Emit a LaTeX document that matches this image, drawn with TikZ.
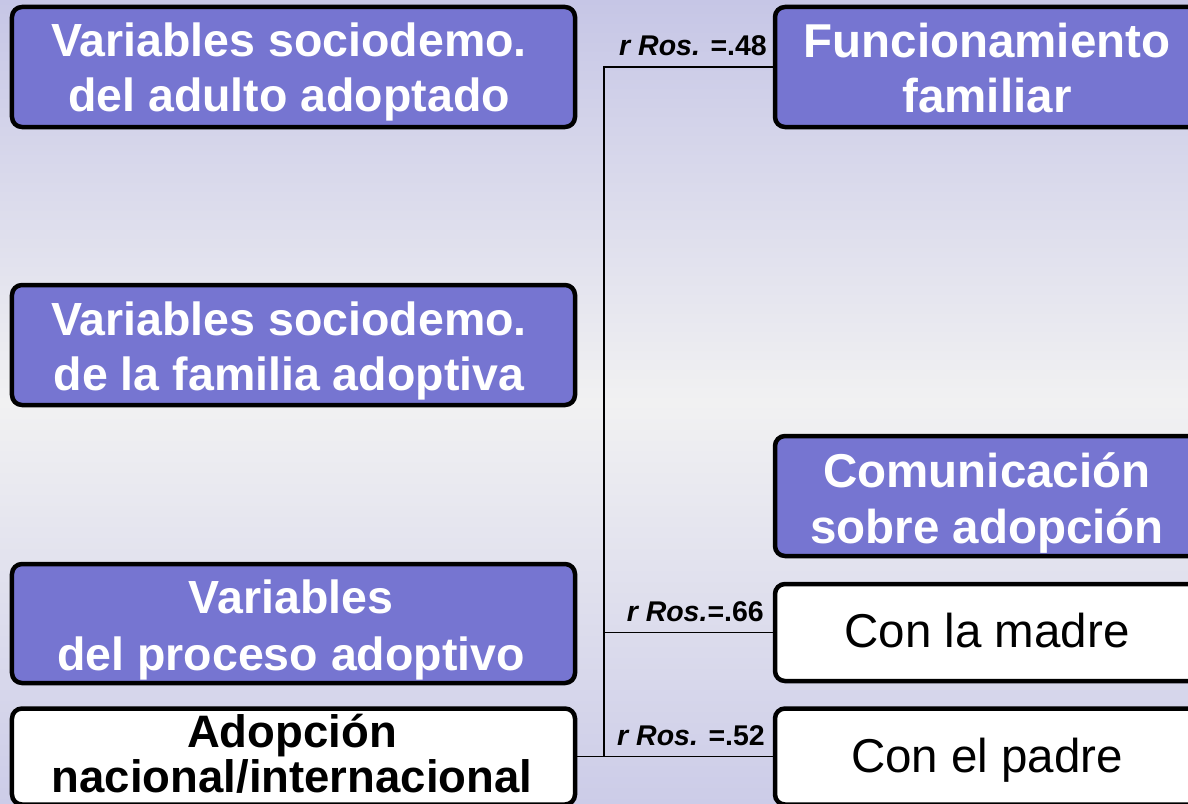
\documentclass[tikz,border=0pt]{standalone}
\usepackage{fontspec}
\setmainfont{Liberation Sans}
\definecolor{boxblue}{RGB}{118,117,209}
\definecolor{bgtop}{RGB}{198,198,230}
\definecolor{bgmid}{RGB}{241,241,242}
\definecolor{bgbot}{RGB}{204,204,232}
\tikzset{
  boxbase/.style={draw=black, line width=4.5bp, rounded corners=10bp, inner sep=0pt},
  leftbox/.style={boxbase, minimum width=563bp},
  rightbox/.style={boxbase, minimum width=424bp},
  bluefill/.style={fill=boxblue},
  whitefill/.style={fill=white},
  wtxt/.style={anchor=base, inner sep=0pt, text=white, font=\bfseries\fontsize{46.5bp}{55bp}\selectfont},
  btxt/.style={anchor=base, inner sep=0pt, text=black, font=\bfseries\fontsize{45.5bp}{50bp}\selectfont},
  rtxt/.style={anchor=base, inner sep=0pt, text=black, font=\fontsize{47.5bp}{55bp}\selectfont},
  lbl/.style={anchor=base east, inner sep=0pt, font=\bfseries\fontsize{28.5bp}{30bp}\selectfont},
  conn/.style={line width=1.8bp, draw=black}
}
\begin{document}
\begin{tikzpicture}[x=1bp, y=-1bp]
\useasboundingbox (0,0) rectangle (1188,804);
\clip (0,0) rectangle (1188,804);
\shade[top color=bgtop, bottom color=bgbot, middle color=bgmid] (0,0) rectangle (1188,804);

% boxes (shapes)
\node[leftbox, bluefill, minimum height=120bp] (adulto) at (293.5,67) {};
\node[leftbox, bluefill, minimum height=120bp] (familia) at (293.5,345) {};
\node[leftbox, bluefill, minimum height=119bp] (proceso) at (293.5,623.5) {};
\node[leftbox, whitefill, minimum height=96bp] (adop) at (293.5,756.5) {};
\node[rightbox, bluefill, minimum height=120bp] (func) at (987,67) {};
\node[rightbox, bluefill, minimum height=120bp] (comun) at (987,496) {};
\node[rightbox, whitefill, minimum height=97bp] (madre) at (987,632.5) {};
\node[rightbox, whitefill, minimum height=96bp] (padre) at (987,756.5) {};

% connectors
\coordinate (jt) at (604,67);
\coordinate (jb) at (604,756.5);
\draw[conn] (func.west) -- (jt) -- (jb);
\draw[conn] (jt |- madre.west) -- (madre.west);
\draw[conn] (adop.east) -- (padre.west);

% texts
\node[wtxt] (t1a) at (289,57) {Variables sociodemo.};
\node[wtxt] (t1b) at (289,112) {del adulto adoptado};
\node[wtxt] (t2a) at (289,335) {Variables sociodemo.};
\node[wtxt] (t2b) at (289,390) {de la familia adoptiva};
\node[wtxt] (t3a) at (291,613) {Variables};
\node[wtxt] (t3b) at (291,670) {del proceso adoptivo};
\node[btxt] (t4a) at (292,747) {Adopción};
\node[btxt] (t4b) at (292,792) {nacional/internacional};
\node[wtxt, font=\bfseries\fontsize{47.5bp}{55bp}\selectfont] (t5a) at (987,58) {Funcionamiento};
\node[wtxt, font=\bfseries\fontsize{47.5bp}{55bp}\selectfont] (t5b) at (987,113) {familiar};
\node[wtxt, font=\bfseries\fontsize{47.5bp}{55bp}\selectfont] (t6a) at (987,487) {Comunicación};
\node[wtxt, font=\bfseries\fontsize{47.5bp}{55bp}\selectfont] (t6b) at (987,543) {sobre adopción};
\node[rtxt] (t7) at (987,647) {Con la madre};
\node[rtxt] (t8) at (987,772) {Con el padre};

% labels
\node[lbl] (l48) at (767,56) {\textit{r Ros.} =.48};
\node[lbl] (l66) at (764,621) {\textit{r Ros.}=.66};
\node[lbl] (l52) at (765,745) {\textit{r Ros.} =.52};
\end{tikzpicture}
\end{document}
